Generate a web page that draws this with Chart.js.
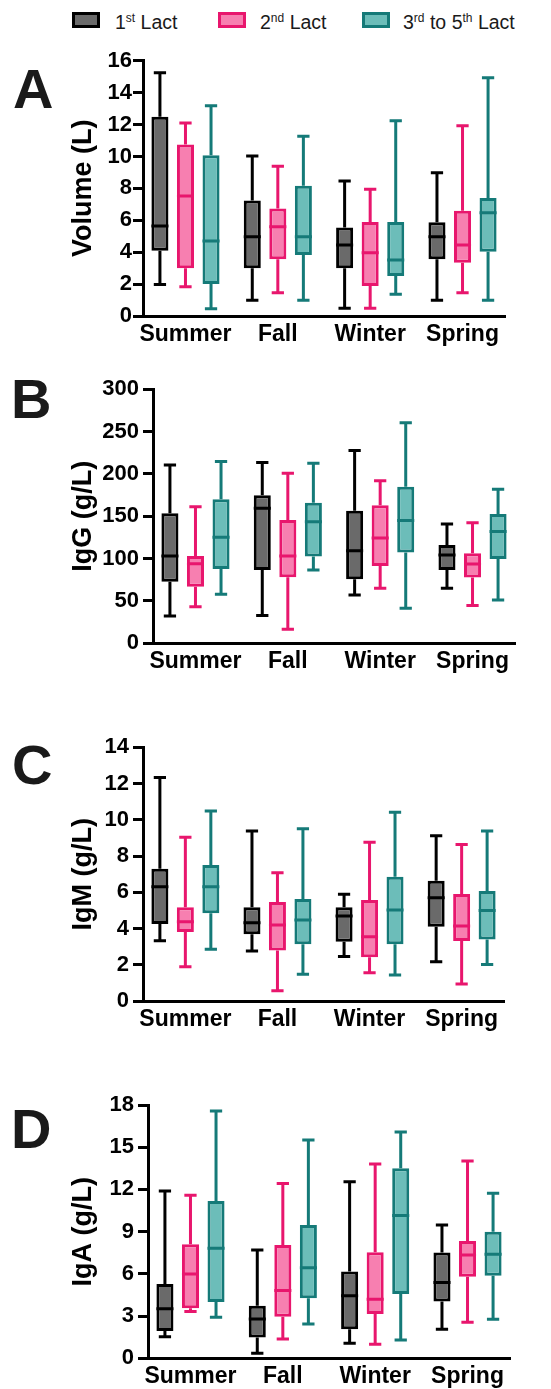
<!DOCTYPE html>
<html>
<head>
<meta charset="utf-8">
<script src="https://cdn.jsdelivr.net/npm/chart.js@4.4.1/dist/chart.umd.min.js"></script>
<style>
  html, body { margin:0; padding:0; background:#fff; width:551px; height:1389px; overflow:hidden; position:relative; }
  body { font-family: 'Liberation Sans', Arial, sans-serif; color:#111; }
  canvas { position:absolute; left:0; }
  .sw { position:absolute; top:12px; width:28px; height:16px; box-sizing:border-box; border:3px solid; }
  .lt { position:absolute; top:11.6px; font-size:19.5px; line-height:20px; white-space:nowrap; color:#1a1a1a; }
  .lt sup { font-size:12px; vertical-align:baseline; position:relative; top:-7px; }
  .letter { position:absolute; font-size:56px; line-height:56px; font-weight:bold; color:#1a1a1a; }
</style>
</head>
<body>
<div class="sw" style="left:72px;border-color:#000;background:#6a6a6a"></div>
<div class="lt" style="left:115px">1<sup>st</sup> Lact</div>
<div class="sw" style="left:218px;border-color:#e8166d;background:#f77fb0"></div>
<div class="lt" style="left:260px">2<sup>nd</sup> Lact</div>
<div class="sw" style="left:362px;border-color:#157a78;background:#6cbdb9"></div>
<div class="lt" style="left:403px">3<sup>rd</sup> to 5<sup>th</sup> Lact</div>

<div class="letter" style="left:13px;top:60.6px">A</div>
<div class="letter" style="left:11px;top:370.6px">B</div>
<div class="letter" style="left:12px;top:736.6px">C</div>
<div class="letter" style="left:11px;top:1100.6px">D</div>

<script>
// ---- Data: five-number summaries [min, Q1, median, Q3, max] per season ----
const seasons = ['Summer', 'Fall', 'Winter', 'Spring'];
const seriesNames = ['1st Lact', '2nd Lact', '3rd to 5th Lact'];

// Panel A: Volume (L)
const volume1st = [[1.98, 4.09, 5.64, 12.48, 15.24], [0.98, 2.99, 4.97, 7.24, 10.02], [0.48, 2.99, 4.45, 5.55, 8.46], [0.98, 3.55, 4.97, 5.87, 8.98]];
const volume2nd = [[1.84, 2.99, 7.52, 10.75, 12.10], [1.46, 3.55, 5.60, 6.74, 9.39], [0.48, 1.88, 3.97, 5.89, 7.95], [1.46, 3.34, 4.45, 6.60, 11.92]];
const volume3rd = [[0.46, 2.00, 4.70, 10.08, 13.17], [0.98, 3.82, 4.97, 8.16, 11.27], [1.36, 2.50, 3.51, 5.89, 12.23], [0.98, 4.03, 6.47, 7.39, 14.93]];

// Panel B: IgG (g/L)
const igg1st = [[32.3, 72.8, 103.1, 153.5, 210.6], [32.7, 86.6, 159.4, 174.8, 213.4], [57.1, 75.6, 109.4, 156.7, 227.6], [65.0, 86.6, 104.3, 116.1, 140.9]];
const igg2nd = [[43.3, 66.9, 94.0, 103.1, 161.4], [16.5, 78.0, 103.1, 145.7, 200.8], [65.0, 91.3, 124.4, 163.0, 192.1], [44.5, 77.6, 93.7, 106.3, 142.5]];
const igg3rd = [[57.9, 87.8, 125.2, 170.1, 214.6], [86.6, 102.4, 143.7, 166.1, 212.6], [41.3, 107.1, 144.9, 185.0, 260.6], [51.2, 99.6, 131.9, 152.8, 181.9]];

// Panel C: IgM (g/L)
const igm1st = [[3.33, 4.25, 6.31, 7.30, 12.34], [2.76, 3.68, 4.32, 5.17, 9.38], [2.45, 3.27, 4.69, 5.17, 5.89], [2.17, 4.10, 5.70, 6.64, 9.12]];
const igm2nd = [[1.89, 3.81, 4.38, 5.17, 9.03], [0.57, 2.78, 4.19, 5.46, 7.08], [1.56, 2.41, 3.55, 5.57, 8.76], [0.94, 3.31, 4.14, 5.91, 8.63]];
const igm3rd = [[2.85, 4.84, 6.31, 7.51, 10.49], [1.47, 3.13, 4.47, 5.63, 9.51], [1.43, 3.13, 5.02, 6.86, 10.41], [2.02, 3.40, 4.99, 6.07, 9.38]];

// Panel D: IgA (g/L)
const iga1st = [[1.54, 1.94, 3.53, 5.28, 11.89], [0.36, 1.47, 2.79, 3.74, 7.70], [1.07, 2.06, 4.45, 6.16, 12.55], [2.06, 4.03, 5.38, 7.51, 9.47]];
const iga2nd = [[3.32, 3.55, 5.99, 8.10, 11.58], [1.37, 2.96, 4.81, 8.05, 12.43], [0.99, 3.15, 4.19, 7.53, 13.81], [2.56, 5.80, 7.34, 8.34, 14.02]];
const iga3rd = [[2.91, 4.00, 7.82, 11.18, 17.57], [2.44, 4.26, 6.44, 9.47, 15.51], [1.30, 4.57, 10.14, 13.50, 16.08], [2.77, 5.87, 7.39, 9.00, 11.72]];

// y-axis tick ranges [max, step]
const volumeTicks = [16, 2];
const iggTicks = [300, 50];
const igmTicks = [14, 2];
const igaTicks = [18, 3];

// ---- Styling ----
const FONT = "'Liberation Sans', Arial, sans-serif";
const borderColors = ['#000000', '#e8166d', '#157a78'];
const fillColors = ['#6a6a6a', '#f77fb0', '#6cbdb9'];

const panels = [
  { title: 'Volume (L)', data: [volume1st, volume2nd, volume3rd], ticks: volumeTicks, left: 143, right: 505, top: 60.7, bottom: 316, tickPad: 1 },
  { title: 'IgG (g/L)',  data: [igg1st, igg2nd, igg3rd],          ticks: iggTicks,    left: 153, right: 515, top: 389.3, bottom: 643.3, tickPad: 4 },
  { title: 'IgM (g/L)',  data: [igm1st, igm2nd, igm3rd],          ticks: igmTicks,    left: 143, right: 504, top: 747.3, bottom: 1001, tickPad: 4 },
  { title: 'IgA (g/L)',  data: [iga1st, iga2nd, iga3rd],          ticks: igaTicks,    left: 148, right: 510, top: 1105, bottom: 1358.3, tickPad: 4 }
];

const boxPlugin = {
  id: 'boxWhiskers',
  afterDatasetsDraw(chart) {
    const ctx = chart.ctx;
    const ys = chart.scales.y;
    chart.data.datasets.forEach((ds, d) => {
      const meta = chart.getDatasetMeta(d);
      meta.data.forEach((bar, i) => {
        const s = ds.stats[i];
        const pMin = ys.getPixelForValue(s[0]);
        const pQ1 = ys.getPixelForValue(s[1]);
        const pMed = ys.getPixelForValue(s[2]);
        const pQ3 = ys.getPixelForValue(s[3]);
        const pMax = ys.getPixelForValue(s[4]);
        const x = bar.x, half = bar.width / 2, cap = bar.width * 0.36;
        ctx.save();
        ctx.strokeStyle = ds.borderColor;
        ctx.lineWidth = 3;
        ctx.lineCap = 'butt';
        ctx.beginPath();
        ctx.moveTo(x, pQ3); ctx.lineTo(x, pMax);
        ctx.moveTo(x - cap, pMax); ctx.lineTo(x + cap, pMax);
        ctx.moveTo(x, pQ1); ctx.lineTo(x, pMin);
        ctx.moveTo(x - cap, pMin); ctx.lineTo(x + cap, pMin);
        ctx.moveTo(x - half, pMed); ctx.lineTo(x + half, pMed);
        ctx.stroke();
        ctx.restore();
      });
    });
  }
};

const X_AXIS_H = 30, PAD_LEFT = 60;

panels.forEach((p) => {
  const T = Math.floor(p.top - 30);
  const H = Math.ceil(p.bottom + X_AXIS_H - T);
  const canvas = document.createElement('canvas');
  canvas.width = 551; canvas.height = H;
  canvas.style.top = T + 'px';
  canvas.style.width = '551px'; canvas.style.height = H + 'px';
  document.body.appendChild(canvas);

  const datasets = p.data.map((series, d) => ({
    label: seriesNames[d],
    data: series.map((s, i) => ({ x: i, y: [s[1], s[3]] })),
    stats: series,
    backgroundColor: fillColors[d],
    borderColor: borderColors[d],
    borderWidth: 3,
    borderSkipped: false,
    categoryPercentage: 0.83,
    barPercentage: 0.667
  }));

  new Chart(canvas, {
    type: 'bar',
    data: { datasets },
    plugins: [boxPlugin],
    options: {
      responsive: false,
      animation: false,
      devicePixelRatio: 1,
      layout: { padding: { left: PAD_LEFT, right: 551 - p.right, top: p.top - T, bottom: H - (p.bottom - T) - X_AXIS_H } },
      plugins: { legend: { display: false }, tooltip: { enabled: false } },
      scales: {
        x: {
          type: 'linear',
          offset: false,
          min: -0.46, max: 3.46,
          grid: { display: false, drawTicks: false, offset: false },
          border: { display: true, color: '#000', width: 3 },
          ticks: {
            stepSize: 1, includeBounds: false, autoSkip: false, maxRotation: 0, padding: 4.7,
            color: '#000', font: { family: FONT, size: 23, weight: 'bold' },
            callback: (v) => (Number.isInteger(v) && seasons[v] !== undefined ? seasons[v] : '')
          },
          afterFit: (sc) => { sc.height = X_AXIS_H; }
        },
        y: {
          min: 0, max: p.ticks[0],
          grid: { drawOnChartArea: false, drawTicks: true, tickLength: 10, lineWidth: 3, color: '#000' },
          border: { display: true, color: '#000', width: 3 },
          ticks: { stepSize: p.ticks[1], padding: p.tickPad, color: '#000', font: { family: FONT, size: 22, weight: 'bold' } },
          title: { display: true, text: p.title, color: '#000', padding: { top: 7, bottom: 0 }, font: { family: FONT, size: 27, weight: 'bold' } },
          afterFit: (sc) => { sc.width = p.left - PAD_LEFT; }
        }
      }
    }
  });
});
</script>
</body>
</html>
